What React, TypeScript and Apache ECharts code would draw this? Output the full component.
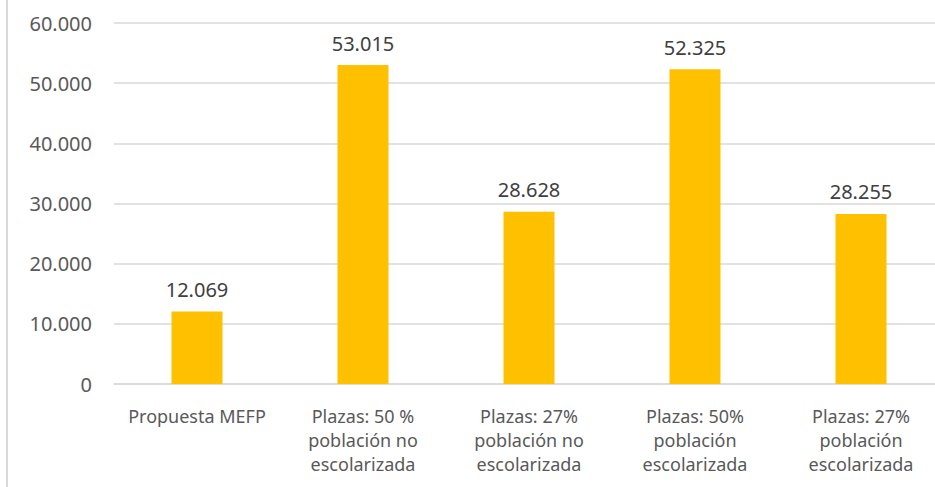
import React, { useEffect, useRef } from "react";
import * as echarts from "echarts";

const categories = [
  "Propuesta MEFP",
  "Plazas: 50 %\npoblación no\nescolarizada",
  "Plazas: 27%\npoblación no\nescolarizada",
  "Plazas: 50%\npoblación\nescolarizada",
  "Plazas: 27%\npoblación\nescolarizada",
];
const values = [12069, 53015, 28628, 52325, 28255];
const yTicks = { min: 0, max: 60000, interval: 10000 };

const fmt = (v: number) =>
  String(Math.round(v)).replace(/\B(?=(\d{3})+(?!\d))/g, ".");

export default function App() {
  const ref = useRef<HTMLDivElement>(null);
  useEffect(() => {
    document.body.style.margin = "0";
    document.body.style.overflow = "hidden";
    const chart = echarts.init(ref.current!, null, { renderer: "svg" });
    chart.setOption({
      animation: false,
      backgroundColor: "#ffffff",
      textStyle: { fontFamily: "Noto Sans" },
      grid: { left: 114, right: 16, top: 23, bottom: 103, containLabel: false },
      xAxis: {
        type: "category",
        data: categories,
        axisLine: { lineStyle: { color: "#d9d9d9", width: 1.5 } },
        axisTick: { show: false },
        axisLabel: {
          interval: 0,
          color: "#595959",
          fontSize: 18,
          lineHeight: 24,
          margin: 20,
          fontFamily: "Noto Sans",
        },
      },
      yAxis: {
        type: "value",
        min: yTicks.min,
        max: yTicks.max,
        interval: yTicks.interval,
        axisLine: { show: false },
        axisTick: { show: false },
        splitLine: { lineStyle: { color: "#d9d9d9", width: 1.5 } },
        axisLabel: {
          color: "#595959",
          fontSize: 20,
          margin: 22,
          fontFamily: "Noto Sans",
          formatter: (v: number) => fmt(v),
        },
      },
      series: [
        {
          type: "bar",
          data: values,
          barWidth: 51,
          itemStyle: { color: "#FFC000" },
          label: {
            show: true,
            position: "top",
            distance: 12,
            color: "#404040",
            fontSize: 20,
            fontFamily: "Noto Sans",
            formatter: (p: any) => fmt(p.value),
          },
        },
      ],
      graphic: [
        {
          type: "line",
          shape: { x1: 7, y1: 0, x2: 7, y2: 487 },
          style: { stroke: "#d9d9d9", lineWidth: 2 },
          silent: true,
        },
      ],
    });
    return () => chart.dispose();
  }, []);
  return (
    <div
      ref={ref}
      style={{ position: "fixed", left: 0, top: 0, width: 960, height: 487 }}
    />
  );
}
